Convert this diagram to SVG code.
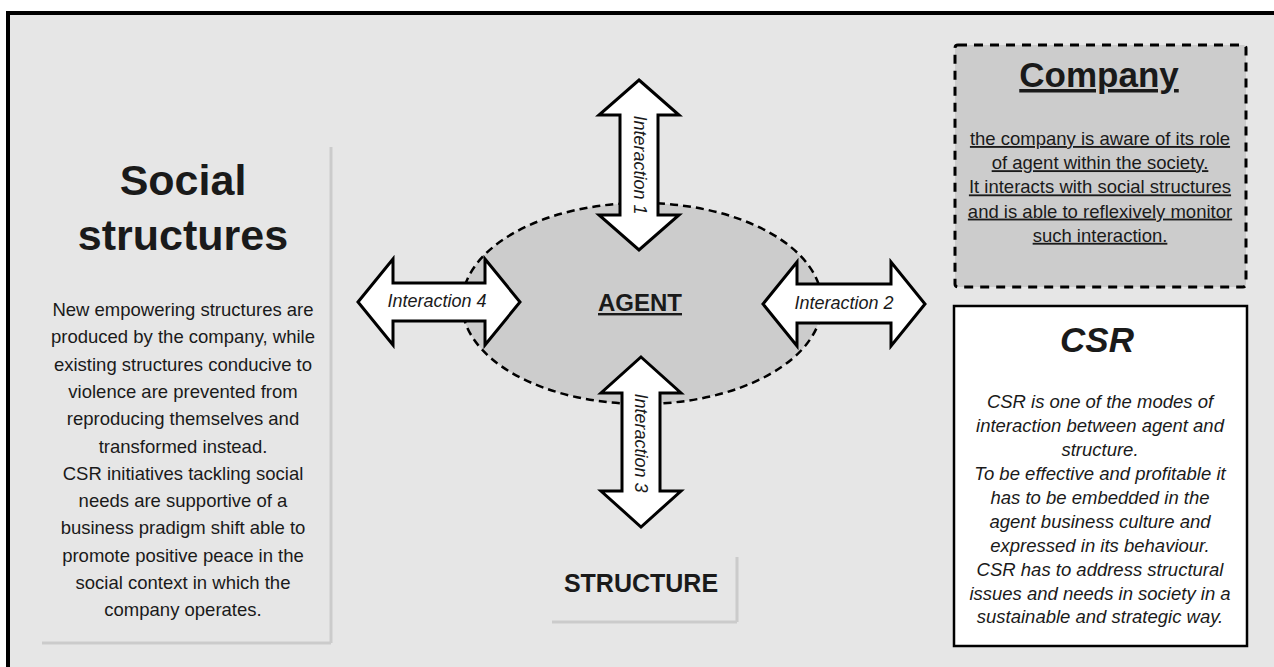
<svg xmlns="http://www.w3.org/2000/svg" width="1274" height="667" viewBox="0 0 1274 667">
<style>
  text { font-family: "Liberation Sans", Arial, Helvetica, sans-serif; fill: #1a1a1a; }
  .arrow { fill: #ffffff; stroke: #000000; stroke-width: 3; stroke-linejoin: miter; }
  .lbl { font-size: 18px; font-style: italic; text-anchor: middle; }
  .body { font-size: 18.5px; text-anchor: middle; }
  .ul { text-decoration: underline; }
  .shadow { stroke: #cbcbcb; stroke-width: 3; fill: none; }
</style>
<rect x="0" y="0" width="1274" height="667" fill="#ffffff"/>
<rect x="8" y="13" width="1300" height="700" fill="#e6e6e6" stroke="#000000" stroke-width="4"/>

<g id="social-structures">
  <line class="shadow" x1="331" y1="147" x2="331" y2="643"/>
  <line class="shadow" x1="42" y1="643" x2="331" y2="643"/>
  <text x="183" y="195" font-size="43" font-weight="bold" text-anchor="middle" fill="#000">Social</text>
  <text x="183" y="250" font-size="43" font-weight="bold" text-anchor="middle" fill="#000">structures</text>
  <text class="body"><tspan x="183" y="316">New empowering structures are</tspan><tspan x="183" y="343.3">produced by the company, while</tspan><tspan x="183" y="370.6">existing structures conducive to</tspan><tspan x="183" y="397.9">violence are prevented from</tspan><tspan x="183" y="425.2">reproducing themselves and</tspan><tspan x="183" y="452.5">transformed instead.</tspan><tspan x="183" y="479.8">CSR initiatives tackling social</tspan><tspan x="183" y="507.1">needs are supportive of a</tspan><tspan x="183" y="534.4">business pradigm shift able to</tspan><tspan x="183" y="561.7">promote positive peace in the</tspan><tspan x="183" y="589">social context in which the</tspan><tspan x="183" y="616.3">company operates.</tspan></text>
</g>

<g id="agent">
  <ellipse cx="642" cy="303.5" rx="180" ry="100.5" fill="#cccccc" stroke="#000" stroke-width="2.5" stroke-dasharray="8 5"/>
  <text x="640" y="311" font-size="24" font-weight="bold" text-anchor="middle" text-decoration="underline" fill="#000">AGENT</text>
</g>

<g id="connectors">
  <g id="interaction-1">
    <path class="arrow" d="M639,80 L679,115 L658,115 L658,215 L679,215 L639,250 L599,215 L620,215 L620,115 L599,115 Z"/>
    <text class="lbl" transform="translate(640,165) rotate(90)" x="0" y="6">Interaction 1</text>
  </g>
  <g id="interaction-2">
    <path class="arrow" d="M763,304 L797,262 L797,284 L891,284 L891,262 L925,304 L891,346 L891,323 L797,323 L797,346 Z"/>
    <text class="lbl" x="844" y="309">Interaction 2</text>
  </g>
  <g id="interaction-3">
    <path class="arrow" d="M641,357 L681,393 L660,393 L660,491 L681,491 L641,527 L601,491 L622,491 L622,393 L601,393 Z"/>
    <text class="lbl" transform="translate(641,443) rotate(90)" x="0" y="6">Interaction 3</text>
  </g>
  <g id="interaction-4">
    <path class="arrow" d="M358,302 L393,259 L393,283 L485,283 L485,259 L520,302 L485,345 L485,321 L393,321 L393,345 Z"/>
    <text class="lbl" x="437" y="307">Interaction 4</text>
  </g>
</g>

<g id="structure">
  <line class="shadow" x1="737" y1="557" x2="737" y2="622"/>
  <line class="shadow" x1="552" y1="622" x2="737" y2="622"/>
  <text x="641" y="592" font-size="25" font-weight="bold" text-anchor="middle" fill="#000">STRUCTURE</text>
</g>

<g id="company">
  <rect x="955" y="45" width="291" height="242" rx="3" fill="#cccccc" stroke="#000" stroke-width="3" stroke-dasharray="9 7"/>
  <text x="1099" y="87" font-size="35" font-weight="bold" text-anchor="middle" text-decoration="underline" fill="#000">Company</text>
  <text class="body ul" x="1100" y="145">the company is aware of its role</text>
  <text class="body ul" x="1100" y="169.2">of agent within the society.</text>
  <text class="body ul" x="1100" y="193.4">It interacts with social structures</text>
  <text class="body ul" x="1100" y="217.6">and is able to reflexively monitor</text>
  <text class="body ul" x="1100" y="241.8">such interaction.</text>
</g>

<g id="csr">
  <rect x="954" y="306" width="293" height="340" fill="#ffffff" stroke="#000" stroke-width="2.5"/>
  <text x="1097" y="352" font-size="35" font-weight="bold" font-style="italic" text-anchor="middle" fill="#000">CSR</text>
  <text class="body" font-style="italic"><tspan x="1100" y="408.3">CSR is one of the modes of</tspan><tspan x="1100" y="432.2">interaction between agent and</tspan><tspan x="1100" y="456.1">structure.</tspan><tspan x="1100" y="480">To be effective and profitable it</tspan><tspan x="1100" y="503.9">has to be embedded in the</tspan><tspan x="1100" y="527.8">agent business culture and</tspan><tspan x="1100" y="551.7">expressed in its behaviour.</tspan><tspan x="1100" y="575.6">CSR has to address structural</tspan><tspan x="1100" y="599.5">issues and needs in society in a</tspan><tspan x="1100" y="623.4">sustainable and strategic way.</tspan></text>
</g>
</svg>
